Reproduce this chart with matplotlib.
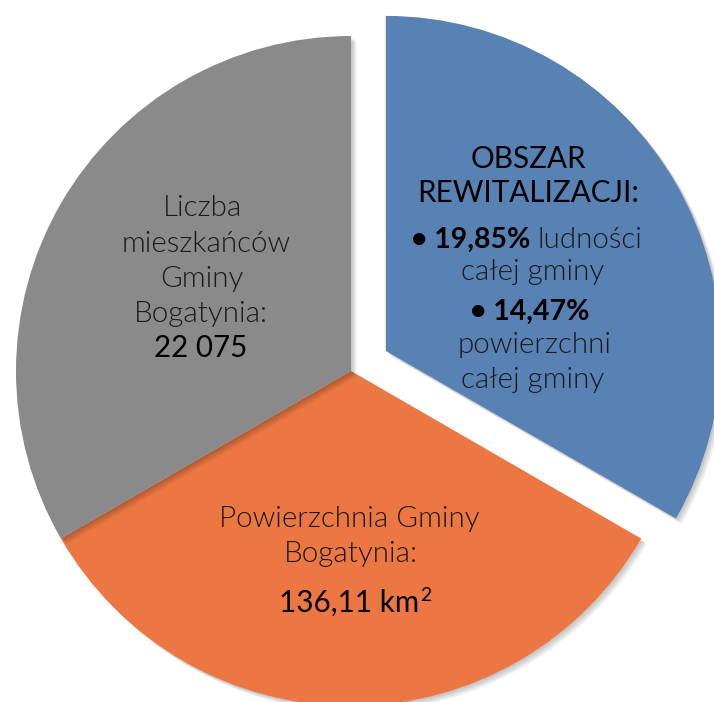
import matplotlib
matplotlib.use("Agg")
import matplotlib.pyplot as plt
import matplotlib.patheffects as pe

# Data
categories = ["Obszar rewitalizacji", "Powierzchnia Gminy", "Liczba mieszkańców"]
values = [1, 1, 1]
colors = ["#5881B4", "#EC7742", "#8A8A8A"]
explode_frac = [0.12, 0, 0]

FONT = ["Lato", "DejaVu Sans"]
LIGHT = 300
TXT = "#1A1A1A"

W, H = 714, 702
fig = plt.figure(figsize=(W / 100, H / 100), dpi=100)
ax = fig.add_axes([0, 0, 1, 1])
ax.axis("off")

cx, cy, R = 351, H - 371, 335
wedges, _ = ax.pie(values, colors=colors, explode=[e * R for e in explode_frac],
                   startangle=90, counterclock=False, center=(cx, cy), radius=R,
                   wedgeprops=dict(linewidth=0))
ax.set_xlim(0, W)
ax.set_ylim(0, H)
ax.set_aspect("equal")

shadow = [pe.SimplePatchShadow(offset=(o, -o), shadow_rgbFace="black", alpha=0.06)
          for o in (4, 3, 2, 1)]
for w in wedges:
    w.set_path_effects(shadow + [pe.Normal()])

SIZE = 21.3


def t(x, y, s, weight=LIGHT, ha="center", size=SIZE, color=TXT):
    ax.text(x, H - y, s, ha=ha, va="baseline", fontsize=size, family=FONT,
            fontweight=weight, color=color)

# Gray slice
t(202, 216, "Liczba")
t(206, 252, "mieszkańców")
t(202, 287, "Gminy")
t(201, 322, "Bogatynia:")
t(201, 357, "22 075", weight="normal", color="black")

# Blue slice
t(528, 168, "OBSZAR", weight="normal", color="black")
t(528, 202, "REWITALIZACJI:", weight="normal", color="black")
t(530, 248, "• 19,85%", weight="bold", ha="right", color="black", size=20.5)
t(537, 248, "ludności", ha="left")
t(533, 280, "całej gminy")
t(530, 320, "• 14,47%", weight="bold", color="black", size=20.5)
t(535, 353, "powierzchni")
t(533, 388, "całej gminy")

# Orange slice
t(349, 527, "Powierzchnia Gminy")
t(351, 562, "Bogatynia:")
t(419, 612, "136,11 km", weight="normal", color="black", ha="right")
t(420, 601, "2", weight="normal", color="black", ha="left", size=14)

fig.savefig("out.png", dpi=100)
